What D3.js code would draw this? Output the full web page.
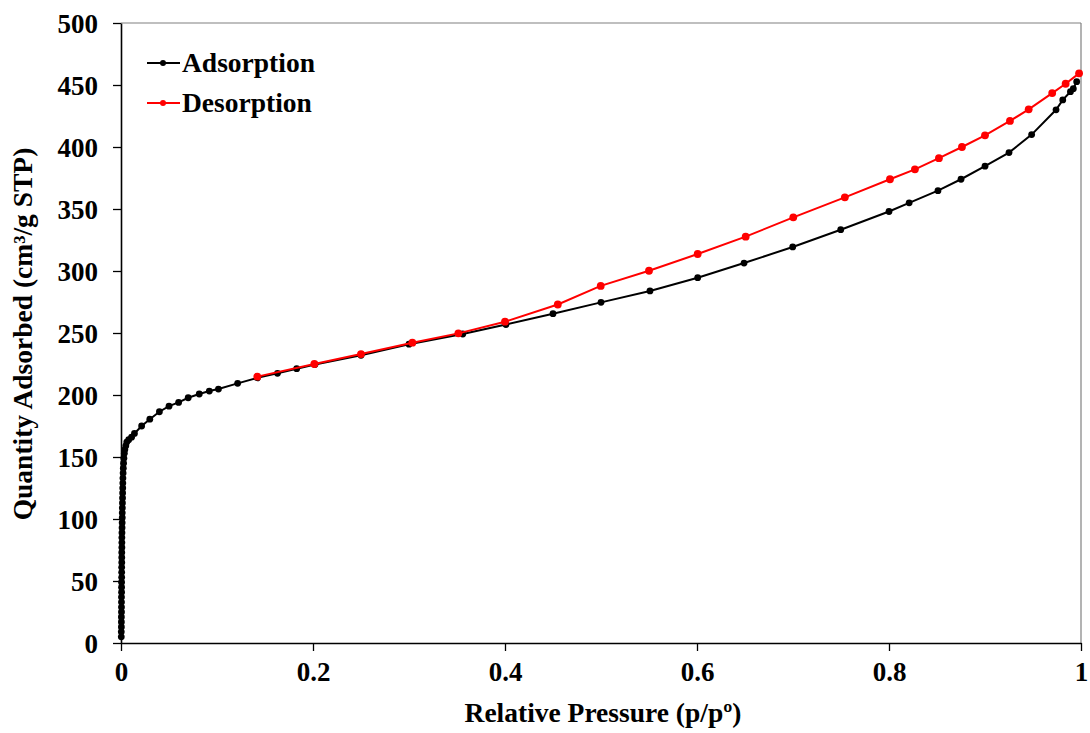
<!DOCTYPE html>
<html><head><meta charset="utf-8">
<script src="https://cdn.jsdelivr.net/npm/d3@7/dist/d3.min.js"></script>
<style>body{margin:0;background:#fff}text{font-family:"Liberation Serif","Times New Roman",serif;font-weight:bold;fill:#000}</style>
</head><body><svg id="c" width="1090" height="733"></svg>
<script>
// Data
const adsorptionP = [0.0003,0.0003,0.0004,0.0004,0.0004,0.0005,0.0005,0.0005,0.0005,0.0006,0.0006,0.0006,0.0007,0.0007,0.0007,0.0008,0.0008,0.0008,0.0009,0.0009,0.0009,0.001,0.0011,0.0012,0.0013,0.0013,0.0014,0.0015,0.0016,0.0017,0.0018,0.0019,0.002,0.0022,0.0024,0.0027,0.003,0.0035,0.004,0.005,0.006,0.008,0.011,0.014,0.0215,0.03,0.04,0.05,0.06,0.07,0.0815,0.092,0.1015,0.1215,0.142,0.163,0.183,0.202,0.25,0.3,0.356,0.401,0.45,0.5,0.551,0.6007,0.649,0.6997,0.7497,0.8,0.821,0.851,0.875,0.9,0.925,0.9486,0.974,0.981,0.989,0.992,0.9955];
const adsorptionQ = [5,9,13,17,21,25,29,33,37,41,45,49,53,57,61,65,69,73,77,81,85,89,93,97,101,105,109,113,117,121,125,129,133,137,141,145,149,153,156,159,162,164,166,169,175,180.5,186.5,191,194,197.8,200.8,203.2,204.8,209.4,213.8,217.5,221.2,224.6,232,241,249.2,256.8,265.6,274.7,283.9,294.6,306.4,319.4,333.3,348,355,364.8,374,384.5,395.5,410,430,438,444.6,447,452.7];
const desorptionP = [0.998,0.984,0.970,0.9455,0.926,0.900,0.876,0.852,0.827,0.801,0.754,0.7003,0.6507,0.6007,0.550,0.4997,0.455,0.400,0.3514,0.3035,0.25,0.2014,0.142];
const desorptionQ = [459.4,451,443.5,430.4,421,409.4,400,391,382,374,359.4,343.3,327.7,313.7,300.2,288,273,259.1,249.7,242.2,233,225,214.8];
const xTicks = [0,0.2,0.4,0.6,0.8,1];
const xTickLabels = ["0","0.2","0.4","0.6","0.8","1"];
const yTicks = [0,50,100,150,200,250,300,350,400,450,500];
const seriesNames = ["Adsorption","Desorption"];
const seriesColors = ["#000000","#ff0000"];

const svg = d3.select("#c");
const x = d3.scaleLinear().domain([0,1]).range([121,1081]);
const y = d3.scaleLinear().domain([0,500]).range([643,23]);

// frame (top & right)
svg.append("line").attr("x1",121).attr("x2",1081).attr("y1",23).attr("y2",23).attr("stroke","#808080").attr("stroke-width",1.2);
svg.append("line").attr("x1",1081).attr("x2",1081).attr("y1",23).attr("y2",643).attr("stroke","#808080").attr("stroke-width",1.2);

const xAxis = svg.append("g").attr("transform","translate(0,643)")
  .call(d3.axisBottom(x).tickValues(xTicks).tickSize(8).tickSizeOuter(0).tickFormat((d,i)=>xTickLabels[i]));
xAxis.selectAll("text").attr("y",38).attr("dy",null).style("font-size","27px");
const yAxis = svg.append("g").attr("transform","translate(121,0)")
  .call(d3.axisLeft(y).tickValues(yTicks).tickSize(8).tickSizeOuter(0));
yAxis.selectAll("text").attr("x",-23).attr("dy","0.34em").style("font-size","27px");
[xAxis,yAxis].forEach(a=>{a.select(".domain").attr("stroke","#000").attr("stroke-width",1.6);a.selectAll(".tick line").attr("stroke","#000").attr("stroke-width",1.3);a.attr("font-family",null).attr("font-size",null);});

// titles
svg.append("text").attr("x",603).attr("y",722).attr("text-anchor","middle").style("font-size","27.5px").text("Relative Pressure (p/pº)");
svg.append("text").attr("transform","translate(32,334) rotate(-90)").attr("text-anchor","middle").style("font-size","27.5px").text("Quantity Adsorbed (cm³/g STP)");

const line = d3.line().x(d=>x(d[0])).y(d=>y(d[1]));
const series = [
  {pts: adsorptionP.map((p,i)=>[p,adsorptionQ[i]]), color: seriesColors[0], r:3.4},
  {pts: desorptionP.map((p,i)=>[p,desorptionQ[i]]), color: seriesColors[1], r:3.9}
];
series.forEach(s=>{
  svg.append("path").datum(s.pts).attr("d",line).attr("fill","none").attr("stroke",s.color).attr("stroke-width",2);
  svg.append("g").selectAll("circle").data(s.pts).join("circle")
    .attr("cx",d=>x(d[0])).attr("cy",d=>y(d[1])).attr("r",s.r).attr("fill",s.color);
});

// legend
const leg = svg.append("g");
seriesNames.forEach((n,i)=>{
  const yy = 63 + i*40;
  leg.append("line").attr("x1",147).attr("x2",180).attr("y1",yy).attr("y2",yy).attr("stroke",seriesColors[i]).attr("stroke-width",2);
  leg.append("circle").attr("cx",163).attr("cy",yy).attr("r",3).attr("fill",seriesColors[i]);
  leg.append("text").attr("x",182).attr("y",yy+9).style("font-size","27.5px").text(n);
});
</script></body></html>
